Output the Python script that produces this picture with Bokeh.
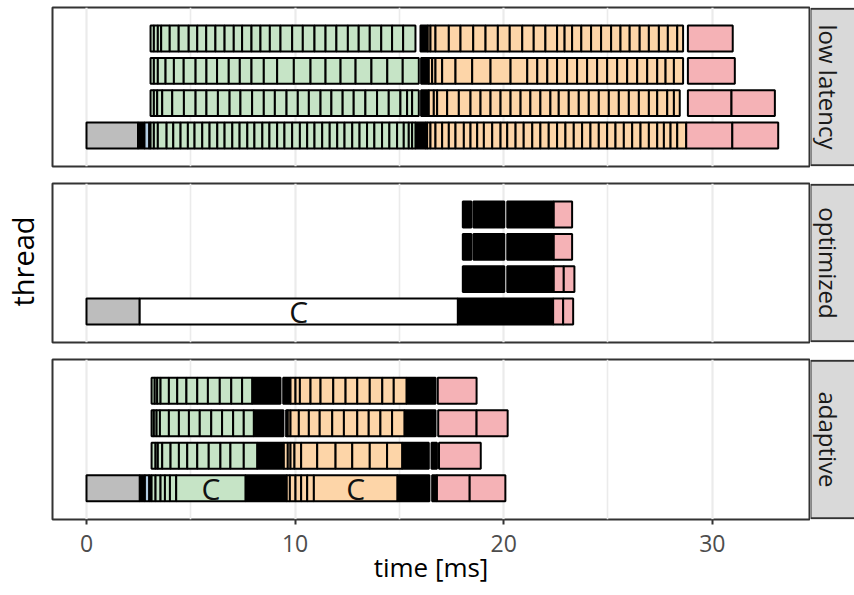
import math
from bokeh.plotting import figure
from bokeh.layouts import column, row
from bokeh.models import Range1d, Grid, FixedTicker, ColumnDataSource
from bokeh.core.properties import value
from bokeh.embed import file_html
from bokeh.resources import INLINE

# ---------------- data ----------------
PANELS = ["low latency", "optimized", "adaptive"]
X_TICKS = [0, 10, 20, 30]
X_MINOR = [5, 15, 25]
X_LABEL = "time [ms]"
Y_LABEL = "thread"

# low latency (boundaries of consecutive tasks, ms)
ll_t1_init = [0.0, 2.47]
ll_t1_io = [2.78, 3.0]
ll_t1_green = [3.07, 3.23, 3.42, 3.84, 4.16, 4.51, 4.86, 5.18, 5.55, 5.9, 6.27, 6.62, 6.99, 7.34,
               7.71, 8.05, 8.43, 8.77, 9.14, 9.49, 9.86, 10.23, 10.58, 10.93, 11.3, 11.66, 12.02,
               12.37, 12.74, 13.09, 13.45, 13.8, 14.17, 14.52, 14.89, 15.21, 15.45, 15.61, 15.77]
ll_t1_orange = [16.25, 16.33, 16.49, 16.73, 17.05, 17.37, 17.69, 18.09, 18.41, 18.73, 19.05, 19.45,
                19.85, 20.17, 20.57, 20.96, 21.37, 21.76, 22.16, 22.56, 22.96, 23.36, 23.76, 24.16,
                24.56, 24.96, 25.36, 25.76, 26.16, 26.56, 26.96, 27.36, 27.68, 28.0, 28.32, 28.75]
ll_t1_pink = [28.75, 30.96, 33.16]
ll_t1_sync_start = [2.47, 3.0, 15.77]
ll_t1_sync_end = [2.78, 3.07, 16.25]

ll_t2_green = [3.07, 3.23, 3.39, 3.63, 4.11, 4.67, 5.23, 5.75, 6.3, 6.86, 7.38, 7.94, 8.5, 9.03,
               9.59, 10.13, 10.66, 11.22, 11.74, 12.28, 12.81, 13.37, 13.93, 14.49, 15.05, 15.37,
               15.61, 15.93]
ll_t2_orange = [16.41, 16.65, 16.81, 17.29, 17.85, 18.41, 18.89, 19.37, 19.85, 20.33, 20.81, 21.28,
                21.76, 22.24, 22.64, 23.12, 23.6, 24.08, 24.56, 25.04, 25.52, 26.0, 26.48, 26.96,
                27.36, 27.84, 28.16, 28.44]
ll_t2_pink = [28.83, 30.92, 33.0]
ll_t2_sync_start = [16.04]
ll_t2_sync_end = [16.41]

ll_t3_green = [3.07, 3.23, 3.42, 3.79, 4.19, 4.66, 5.23, 5.75, 6.26, 6.82, 7.35, 7.91, 8.5, 9.14,
               9.94, 10.74, 11.46, 12.18, 12.9, 13.66, 14.42, 15.16, 15.93]
ll_t3_orange = [16.41, 16.57, 16.73, 17.05, 17.69, 18.49, 19.37, 20.33, 21.13, 21.61, 22.09, 22.56,
                23.04, 23.52, 24.0, 24.48, 24.96, 25.44, 25.92, 26.4, 26.88, 27.36, 27.76, 28.16,
                28.6]
ll_t3_pink = [28.83, 31.08]
ll_t3_sync_start = [16.04]
ll_t3_sync_end = [16.41]

ll_t4_green = [3.07, 3.23, 3.42, 3.58, 3.99, 4.42, 4.9, 5.31, 5.74, 6.18, 6.62, 7.06, 7.46, 7.91,
               8.34, 8.79, 9.3, 9.86, 10.37, 10.93, 11.46, 11.98, 12.53, 13.05, 13.58, 14.13,
               14.65, 15.18, 15.77]
ll_t4_orange = [16.36, 16.49, 16.73, 17.37, 17.93, 18.54, 19.13, 19.72, 20.29, 20.89, 21.44, 22.0,
                22.56, 22.92, 23.28, 23.72, 24.19, 24.67, 25.15, 25.6, 26.04, 26.52, 26.96, 27.44,
                27.87, 28.32, 28.6]
ll_t4_pink = [28.83, 30.98]
ll_t4_sync_start = [16.01]
ll_t4_sync_end = [16.36]

# optimized
op_t1_init = [0.0, 2.55]
op_t1_comp = [2.55, 17.8]
op_t1_pink = [22.37, 22.85, 23.33]
op_t1_sync_start = [17.8]
op_t1_sync_end = [22.37]

op_t2_pink = [22.4, 22.88, 23.39]
op_t2_sync_start = [18.04, 20.17]
op_t2_sync_end = [20.03, 22.4]

op_t3_pink = [22.4, 23.28]
op_t3_sync_start = [18.04, 18.55, 20.17]
op_t3_sync_end = [18.45, 20.03, 22.4]

op_t4_pink = [22.4, 23.28]
op_t4_sync_start = [18.04, 18.55, 20.17]
op_t4_sync_end = [18.45, 20.03, 22.4]

# adaptive
ad_t1_init = [0.0, 2.55]
ad_t1_io = [2.8, 3.0]
ad_t1_green = [3.12, 3.31, 3.55, 3.76, 4.0, 4.3, 7.62]
ad_t1_orange = [9.6, 9.75, 10.02, 10.29, 10.58, 10.9, 14.9]
ad_t1_pink = [16.8, 18.37, 20.08]
ad_t1_sync_start = [2.55, 3.0, 7.62, 14.9, 16.57]
ad_t1_sync_end = [2.8, 3.12, 9.6, 16.44, 16.8]

ad_t2_green = [3.12, 3.31, 3.42, 3.63, 4.03, 4.43, 4.83, 5.31, 5.86, 6.42, 6.9, 7.54, 8.18]
ad_t2_orange = [9.46, 9.65, 9.78, 9.97, 10.29, 11.06, 11.94, 12.74, 13.58, 14.41, 15.13]
ad_t2_pink = [16.9, 18.9]
ad_t2_sync_start = [8.18, 15.13, 16.54]
ad_t2_sync_end = [9.46, 16.41, 16.8]

ad_t3_green = [3.12, 3.23, 3.36, 3.52, 3.95, 4.43, 4.91, 5.43, 5.98, 6.5, 7.03, 7.54, 8.02]
ad_t3_orange = [9.57, 9.65, 9.78, 10.18, 10.66, 11.18, 11.78, 12.34, 12.98, 13.53, 14.09, 14.65,
                15.24]
ad_t3_pink = [16.86, 18.7, 20.19]
ad_t3_sync_start = [8.02, 15.24]
ad_t3_sync_end = [9.44, 16.73]

ad_t4_green = [3.12, 3.27, 3.39, 3.55, 3.95, 4.35, 4.79, 5.31, 5.82, 6.39, 6.94, 7.46, 7.94]
ad_t4_orange = [9.78, 10.02, 10.23, 10.74, 11.22, 11.83, 12.42, 12.98, 13.58, 14.18, 14.73, 15.34]
ad_t4_pink = [16.84, 18.7]
ad_t4_sync_start = [7.94, 9.43, 15.34]
ad_t4_sync_end = [9.3, 9.78, 16.73]

# "C" labelled tasks: panel index, thread, start, end
C_PANEL = [1, 2, 2]
C_THREAD = [1, 1, 1]
C_START = [2.55, 4.3, 10.9]
C_END = [17.8, 7.62, 14.9]

# ---------------- style ----------------
FILL = {"init": "#BDBDBD", "io": "#B3CDE3", "sync": "#000000", "green": "#C6E4C6",
        "orange": "#FDD5A8", "pink": "#F5B2B6", "comp": "#FFFFFF"}
HALF = 0.4
FONT = "Open Sans"

PANEL_ROWS = [
    [  # low latency
        (1, [("init", ll_t1_init), ("io", ll_t1_io), ("green", ll_t1_green),
             ("orange", ll_t1_orange), ("pink", ll_t1_pink)], ll_t1_sync_start, ll_t1_sync_end),
        (2, [("green", ll_t2_green), ("orange", ll_t2_orange), ("pink", ll_t2_pink)],
         ll_t2_sync_start, ll_t2_sync_end),
        (3, [("green", ll_t3_green), ("orange", ll_t3_orange), ("pink", ll_t3_pink)],
         ll_t3_sync_start, ll_t3_sync_end),
        (4, [("green", ll_t4_green), ("orange", ll_t4_orange), ("pink", ll_t4_pink)],
         ll_t4_sync_start, ll_t4_sync_end),
    ],
    [  # optimized
        (1, [("init", op_t1_init), ("comp", op_t1_comp), ("pink", op_t1_pink)],
         op_t1_sync_start, op_t1_sync_end),
        (2, [("pink", op_t2_pink)], op_t2_sync_start, op_t2_sync_end),
        (3, [("pink", op_t3_pink)], op_t3_sync_start, op_t3_sync_end),
        (4, [("pink", op_t4_pink)], op_t4_sync_start, op_t4_sync_end),
    ],
    [  # adaptive
        (1, [("init", ad_t1_init), ("io", ad_t1_io), ("green", ad_t1_green),
             ("orange", ad_t1_orange), ("pink", ad_t1_pink)], ad_t1_sync_start, ad_t1_sync_end),
        (2, [("green", ad_t2_green), ("orange", ad_t2_orange), ("pink", ad_t2_pink)],
         ad_t2_sync_start, ad_t2_sync_end),
        (3, [("green", ad_t3_green), ("orange", ad_t3_orange), ("pink", ad_t3_pink)],
         ad_t3_sync_start, ad_t3_sync_end),
        (4, [("green", ad_t4_green), ("orange", ad_t4_orange), ("pink", ad_t4_pink)],
         ad_t4_sync_start, ad_t4_sync_end),
    ],
]


def build_source(rows):
    L, R, Y, C = [], [], [], []
    for thread, phases, s_start, s_end in rows:
        for a, b in zip(s_start, s_end):
            L.append(a); R.append(b); Y.append(thread); C.append(FILL["sync"])
        for kind, bounds in phases:
            for a, b in zip(bounds[:-1], bounds[1:]):
                L.append(a); R.append(b); Y.append(thread); C.append(FILL[kind])
    return ColumnDataSource(dict(left=L, right=R, bottom=[y - HALF for y in Y],
                                 top=[y + HALF for y in Y], color=C))


TOTAL_H = 595
xr = Range1d(-1.63, 34.66)
Y_LO, Y_HI = 0.04, 4.96
HEIGHTS = [174, 177, 244]
TOPS = [7, 9, 8]
BOTTOMS = [8, 9, 76]

# left column holding the shared y title
lf = figure(width=50, height=TOTAL_H, x_range=Range1d(0, 50), y_range=Range1d(0, TOTAL_H),
            output_backend="svg", toolbar_location=None,
            x_axis_location=None, y_axis_location=None,
            min_border_left=0, min_border_right=0, min_border_top=0, min_border_bottom=0)
lf.grid.visible = False
lf.outline_line_color = None
lf.border_fill_color = "#FFFFFF"
lf.text(x=[22], y=[TOTAL_H - 261], text=[Y_LABEL], angle=math.pi / 2, text_align="center",
        text_baseline="middle", text_font=value(FONT), text_font_size="29px",
        text_color="#000000")

rows_layout = []
for i, name in enumerate(PANELS):
    p = figure(width=760, height=HEIGHTS[i], x_range=xr, y_range=Range1d(Y_LO, Y_HI),
               output_backend="svg", toolbar_location=None,
               x_axis_location=("below" if i == 2 else None), y_axis_location=None,
               min_border_left=2, min_border_right=1,
               min_border_top=TOPS[i], min_border_bottom=BOTTOMS[i])
    p.grid.visible = False
    p.background_fill_color = "#FFFFFF"
    p.border_fill_color = "#FFFFFF"
    p.outline_line_color = "#333333"
    p.outline_line_width = 2
    p.add_layout(Grid(dimension=0, ticker=FixedTicker(ticks=X_MINOR),
                      grid_line_color="#EBEBEB", grid_line_width=1.6))
    p.add_layout(Grid(dimension=0, ticker=FixedTicker(ticks=X_TICKS),
                      grid_line_color="#EBEBEB", grid_line_width=2.2))

    src = build_source(PANEL_ROWS[i])
    p.quad(left="left", right="right", bottom="bottom", top="top", fill_color="color",
           line_color="#000000", line_width=2, source=src)

    cx = [(a + b) / 2 for k, a, b in zip(C_PANEL, C_START, C_END) if k == i]
    cy = [t for k, t in zip(C_PANEL, C_THREAD) if k == i]
    if cx:
        p.text(x=cx, y=cy, text=["C"] * len(cx), text_align="center", text_baseline="middle",
               text_font=value(FONT), text_font_size="30px", text_color="#111111")

    if i == 2:
        ax = p.xaxis[0]
        ax.ticker = FixedTicker(ticks=X_TICKS)
        ax.minor_tick_line_color = None
        ax.major_tick_line_color = "#333333"
        ax.major_tick_line_width = 2
        ax.major_tick_out = 5
        ax.major_tick_in = 0
        ax.axis_line_color = None
        ax.major_label_text_font = FONT
        ax.major_label_text_font_size = "23px"
        ax.major_label_text_color = "#4D4D4D"
        ax.major_label_standoff = 10
        ax.axis_label = X_LABEL
        ax.axis_label_text_font = FONT
        ax.axis_label_text_font_size = "26px"
        ax.axis_label_text_font_style = "normal"
        ax.axis_label_text_color = "#000000"
        ax.axis_label_standoff = -6

    s = figure(width=44, height=HEIGHTS[i], x_range=Range1d(0, 1), y_range=Range1d(-0.008, 1.008),
               output_backend="svg", toolbar_location=None,
               x_axis_location=None, y_axis_location=None,
               min_border_left=0, min_border_right=0,
               min_border_top=TOPS[i], min_border_bottom=BOTTOMS[i])
    s.grid.visible = False
    s.outline_line_color = None
    s.border_fill_color = "#FFFFFF"
    s.quad(left=[0], right=[2], bottom=[0], top=[1], fill_color="#D9D9D9",
           line_color="#333333", line_width=2)
    s.text(x=[0.41], y=[0.5], text=[name], angle=-math.pi / 2, text_align="center",
           text_baseline="middle", text_font=value(FONT), text_font_size="24px",
           text_color="#1A1A1A")
    rows_layout.append(row(p, s))

layout = row(lf, column(*rows_layout))
open("out.html", "w").write(file_html(layout, INLINE))
